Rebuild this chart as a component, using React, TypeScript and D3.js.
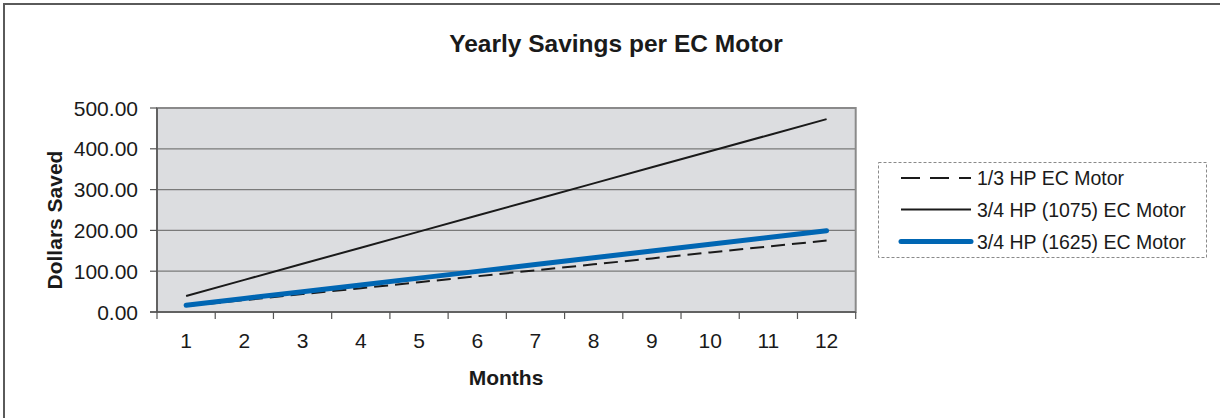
import React from "react";
import * as d3 from "d3";

const months = ["1", "2", "3", "4", "5", "6", "7", "8", "9", "10", "11", "12"];
const seriesNames = ["1/3 HP EC Motor", "3/4 HP (1075) EC Motor", "3/4 HP (1625) EC Motor"];
const motorThird = [14.6, 29.2, 43.8, 58.4, 73.0, 87.6, 102.2, 116.8, 131.4, 146.0, 160.6, 175.2];
const motor1075 = [39.4, 78.8, 118.2, 157.6, 197.0, 236.4, 275.8, 315.2, 354.6, 394.0, 433.4, 472.8];
const motor1625 = [16.6, 33.2, 49.8, 66.4, 83.0, 99.6, 116.2, 132.8, 149.4, 166.0, 182.6, 199.2];
const yTicks = [0, 100, 200, 300, 400, 500];

const FONT = "'Liberation Sans', Arial, Helvetica, sans-serif";

export default function App() {
  const left = 157, right = 855.7, top = 108, bottom = 312;
  const x = d3.scaleBand<string>().domain(months).range([left, right]).padding(0);
  const y = d3.scaleLinear().domain([0, 500]).range([bottom, top]);
  const cx = (m: string) => (x(m) ?? 0) + x.bandwidth() / 2;
  const line = d3
    .line<number>()
    .x((_, i) => cx(months[i]))
    .y((d) => y(d));

  const series = [
    { name: seriesNames[0], data: motorThird, stroke: "#1a1a1a", width: 2, dash: "14 7", legendDash: "19 10" },
    { name: seriesNames[1], data: motor1075, stroke: "#1a1a1a", width: 2, dash: undefined, legendDash: undefined },
    { name: seriesNames[2], data: motor1625, stroke: "#0066b3", width: 5, dash: undefined, legendDash: undefined },
  ];
  const fmt = d3.format(".2f");
  const boundaries = months.map((m) => x(m) ?? 0).concat([right]);
  const legendRows = [178, 209.5, 241.5];

  return (
    <svg
      width={1220}
      height={418}
      style={{ position: "absolute", left: 0, top: 0, background: "#fff" }}
      fontFamily={FONT}
    >
      <rect x={0} y={0} width={1220} height={418} fill="#fff" />
      <rect x={4} y={4} width={1230} height={430} fill="none" stroke="#5a5a5a" strokeWidth={2} />
      <text x={616} y={52} textAnchor="middle" fontSize={24.5} fontWeight="bold" fill="#1a1a1a">
        Yearly Savings per EC Motor
      </text>

      <rect x={left} y={top} width={right - left} height={bottom - top} fill="#dcdde0" />
      {yTicks.slice(1).map((t) => (
        <line key={t} x1={left} x2={right} y1={y(t)} y2={y(t)} stroke="#7a7a7a" strokeWidth={1.2} />
      ))}
      <rect x={left} y={top} width={right - left} height={bottom - top} fill="none" stroke="#8a8a8a" strokeWidth={2} />
      <line x1={left} x2={left} y1={top} y2={bottom} stroke="#555" strokeWidth={1.5} />
      <line x1={left - 7} x2={right} y1={bottom} y2={bottom} stroke="#555" strokeWidth={1.5} />
      {yTicks.map((t) => (
        <g key={t}>
          <line x1={left - 7} x2={left} y1={y(t)} y2={y(t)} stroke="#555" strokeWidth={1.2} />
          <text x={138} y={y(t) + 7.5} textAnchor="end" fontSize={21} fill="#1a1a1a">
            {fmt(t)}
          </text>
        </g>
      ))}
      {boundaries.map((b, i) => (
        <line key={i} x1={b} x2={b} y1={bottom} y2={bottom + 7} stroke="#555" strokeWidth={1.2} />
      ))}
      {months.map((m) => (
        <text key={m} x={cx(m)} y={348} textAnchor="middle" fontSize={21} fill="#1a1a1a">
          {m}
        </text>
      ))}
      <text x={506} y={385} textAnchor="middle" fontSize={21} fontWeight="bold" fill="#1a1a1a">
        Months
      </text>
      <text
        transform={`translate(61.5, 220) rotate(-90)`}
        textAnchor="middle"
        fontSize={21}
        fontWeight="bold"
        fill="#1a1a1a"
      >
        Dollars Saved
      </text>

      {series.map((s) => (
        <path
          key={s.name}
          d={line(s.data) ?? ""}
          fill="none"
          stroke={s.stroke}
          strokeWidth={s.width}
          strokeDasharray={s.dash}
          strokeLinecap={s.width > 3 ? "round" : "butt"}
        />
      ))}

      <rect x={878.5} y={162.5} width={328} height={95} fill="#fff" stroke="#8a8a8a" strokeWidth={1} strokeDasharray="3 2" />
      {series.map((s, i) => (
        <g key={s.name}>
          <line
            x1={901}
            x2={971}
            y1={legendRows[i]}
            y2={legendRows[i]}
            stroke={s.stroke}
            strokeWidth={s.width}
            strokeDasharray={s.legendDash}
            strokeLinecap={s.width > 3 ? "round" : "butt"}
          />
          <text x={977} y={legendRows[i] + 7} fontSize={19.5} fill="#1a1a1a">
            {s.name}
          </text>
        </g>
      ))}
    </svg>
  );
}
